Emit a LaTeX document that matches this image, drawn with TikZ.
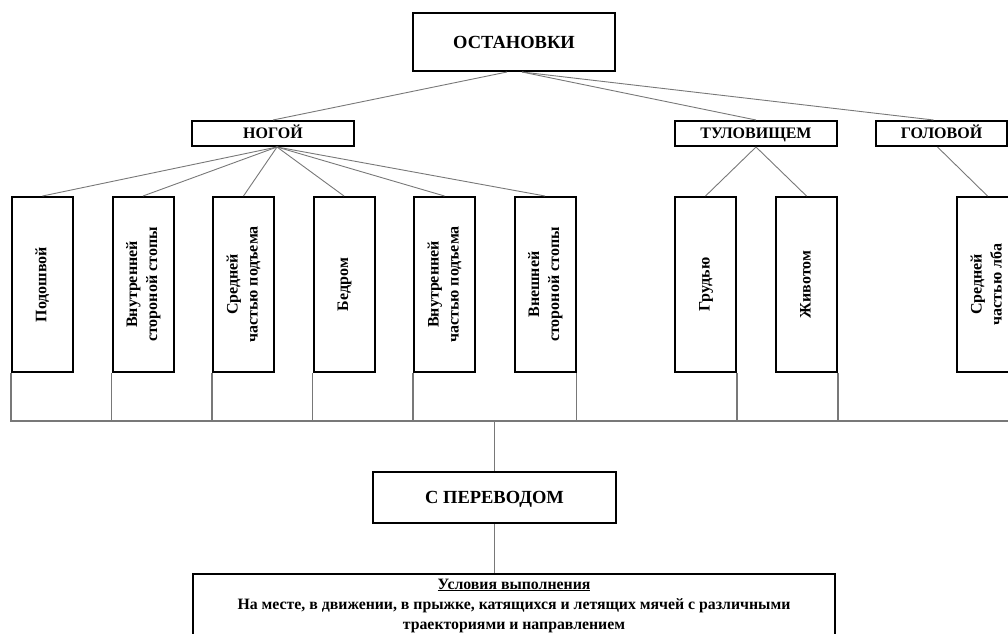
\documentclass[tikz,border=0pt]{standalone}
\usepackage{fontspec}
\usepackage{graphicx}
\setmainfont{Liberation Serif}
\definecolor{linkgray}{RGB}{120,120,120}
% vertical two-line caption for the narrow boxes
\newcommand\vtext[1]{\rotatebox{90}{\begin{tabular}{@{}c@{}}#1\end{tabular}}}
\begin{document}
\begin{tikzpicture}[x=1pt,y=-1pt,
  box/.style={draw=black, line width=2pt, rectangle, inner sep=0pt},
  headbox/.style={box, minimum width=202pt, minimum height=58pt,
    text height=12.2pt, text depth=0pt,
    font=\fontsize{18.5}{22}\selectfont\bfseries},
  groupbox/.style={box, minimum width=162pt, minimum height=25pt,
    text height=10.6pt, text depth=0pt,
    font=\fontsize{16}{19}\selectfont\bfseries},
  legbox/.style={box, minimum width=61pt, minimum height=175pt,
    font=\fontsize{16}{20}\selectfont\bfseries},
  link/.style={draw=linkgray, line width=0.9pt},
  bus/.style={draw=linkgray, line width=1.3pt},
]
\useasboundingbox (0,0) rectangle (1008,633);

% top level
\node[headbox] (ost) at (514,42) {ОСТАНОВКИ};

% groups
\node[groupbox] (nog) at (273,133.5) {НОГОЙ};
\node[groupbox] (tul) at (756,133.5) {ТУЛОВИЩЕМ};
\node[groupbox, minimum width=131pt] (gol) at (941.5,133.5) {ГОЛОВОЙ};

% leg techniques
\node[legbox] (b1) at (42.5,284.5)  {\vtext{Подошвой}};
\node[legbox] (b2) at (143,284.5)   {\vtext{Внутренней\\стороной стопы}};
\node[legbox] (b3) at (243.5,284.5) {\vtext{Средней\\частью подъема}};
\node[legbox] (b4) at (344,284.5)   {\vtext{Бедром}};
\node[legbox] (b5) at (444.5,284.5) {\vtext{Внутренней\\частью подъема}};
\node[legbox] (b6) at (545,284.5)   {\vtext{Внешней\\стороной стопы}};

% trunk and head techniques
\node[legbox] (gr)  at (705.5,284.5) {\vtext{Грудью}};
\node[legbox] (zh)  at (806.5,284.5) {\vtext{Животом}};
\node[legbox] (lob) at (987.5,284.5) {\vtext{Средней\\частью лба}};

% result and conditions
\node[box, minimum width=243pt, minimum height=51pt,
  text height=12.2pt, text depth=0pt,
  font=\fontsize{18.5}{22}\selectfont\bfseries] (per) at (494.5,497.5) {С ПЕРЕВОДОМ};
\node[box, anchor=north, minimum width=642pt, minimum height=63pt, align=center,
  font=\fontsize{15.8}{20}\selectfont\bfseries] (cond) at (514,573)
  {\underline{Условия выполнения}\\
   На месте, в движении, в прыжке, катящихся и летящих мячей с различными\\
   траекториями и направлением};

% tree connectors
\draw[link] ([xshift=-7pt]ost.south) -- (nog.north);
\draw[link] ([xshift=8pt]ost.south) -- (tul.north);
\draw[link] ([xshift=8pt]ost.south) -- ([xshift=-8pt]gol.north);
\foreach \b in {b1,b2,b3,b4,b5,b6}
  \draw[link] ([xshift=4pt]nog.south) -- (\b.north);
\draw[link] (tul.south) -- (gr.north);
\draw[link] (tul.south) -- (zh.north);
\draw[link] ([xshift=-4pt]gol.south) -- (lob.north);

% collecting bus
\coordinate (busR) at (1010,421);
\draw[bus] (b1.south west) |- (busR);
\foreach \b in {b2,b3,b4,b5}
  \draw[bus] (\b.south west) -- (\b.south west |- busR);
\foreach \b in {b6,gr,zh}
  \draw[bus] (\b.south east) -- (\b.south east |- busR);
\draw[bus] (per.north |- busR) -- (per.north);
\draw[bus] (per.south) -- (per.south |- cond.north);
\end{tikzpicture}
\end{document}
